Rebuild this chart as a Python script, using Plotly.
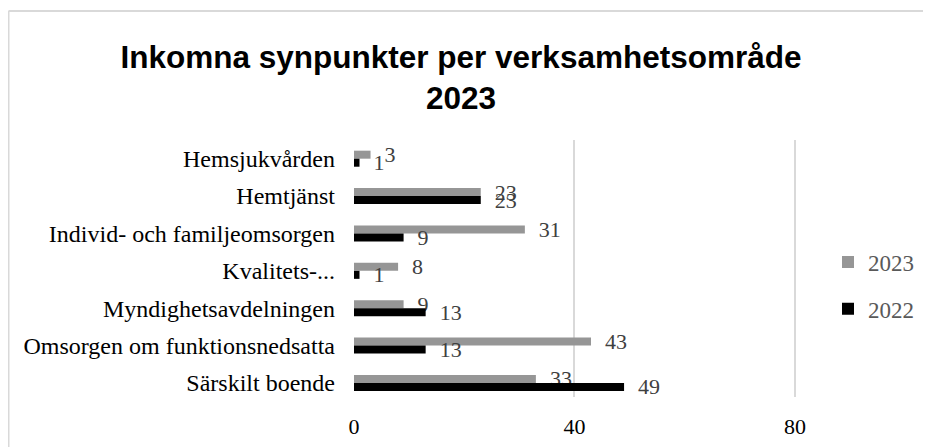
import plotly.graph_objects as go

categories = [
    "Hemsjukvården",
    "Hemtjänst",
    "Individ- och familjeomsorgen",
    "Kvalitets-...",
    "Myndighetsavdelningen",
    "Omsorgen om funktionsnedsatta",
    "Särskilt boende",
]
values_2023 = [3, 23, 31, 8, 9, 43, 33]
values_2022 = [1, 23, 9, 1, 13, 13, 49]
series_names = ["2023", "2022"]
x_ticks = [0, 40, 80]

# page body has an 8px margin, so the figure is drawn 8px smaller
W, H = 923, 439
ML, MR, MT, MB = 346, 6, 132, 50
SERIF = "Liberation Serif, Times New Roman, serif"
SANS = "Liberation Sans, Arial, sans-serif"

fig = go.Figure()
pad = "\u00a0\u00a0"
for name, vals, col, grp in [
    (series_names[0], values_2023, "#969696", "a"),
    (series_names[1], values_2022, "#000000", "b"),
]:
    fig.add_trace(go.Bar(
        name=name, y=categories, x=vals, orientation="h",
        marker=dict(color=col, line=dict(width=0)),
        text=[pad + str(v) for v in vals], textposition="outside",
        textfont=dict(family=SERIF, size=22, color="#404040"),
        constraintext="none", cliponaxis=False,
        legendgroup=grp,
    ))

pw = W - ML - MR
ph = H - MT - MB
def px_x(p):
    return (p - ML) / pw
def px_y(p):
    return (H - MB - p) / ph

frame = dict(color="#d9d9d9", width=2)
fig.update_layout(
    width=W, height=H,
    margin=dict(l=ML, r=MR, t=MT, b=MB, pad=0, autoexpand=False),
    paper_bgcolor="white", plot_bgcolor="white",
    barmode="group", bargap=0.571, bargroupgap=0,
    title=dict(
        text="Inkomna synpunkter per verksamhetsområde<br>2023",
        font=dict(family=SANS, size=31.5, color="#000000", weight="bold"),
        x=453 / W, xanchor="center", xref="container",
        y=1 - 60 / H, yanchor="top", yref="container",
    ),
    xaxis=dict(
        range=[0, 103.6], tickvals=x_ticks, showgrid=True, automargin=False,
        gridcolor="#d9d9d9", gridwidth=1.5, zeroline=False, showline=False,
        tickfont=dict(family=SERIF, size=22, color="#000000"),
        ticks="", ticklabelstandoff=14,
    ),
    yaxis=dict(
        autorange=False, range=[6.375, -0.5], automargin=False,
        categoryorder="array", categoryarray=categories,
        showgrid=False, zeroline=False, showline=False, ticks="",
        tickfont=dict(family=SERIF, size=24, color="#000000"),
        ticklabelstandoff=18,
    ),
    legend=dict(
        x=px_x(820), xanchor="left", xref="paper",
        y=px_y(277.5), yanchor="middle", yref="paper",
        traceorder="grouped", tracegroupgap=14,
        font=dict(family=SERIF, size=23, color="#595959"),
        bgcolor="rgba(0,0,0,0)",
    ),
    showlegend=True,
    shapes=[
        dict(type="line", xref="paper", yref="paper",
             x0=px_x(0.5), x1=px_x(930), y0=px_y(3), y1=px_y(3), line=frame),
        dict(type="line", xref="paper", yref="paper",
             x0=px_x(0.5), x1=px_x(0.5), y0=px_y(3), y1=px_y(445), line=frame),
    ],
)

fig.write_html("out.html")
